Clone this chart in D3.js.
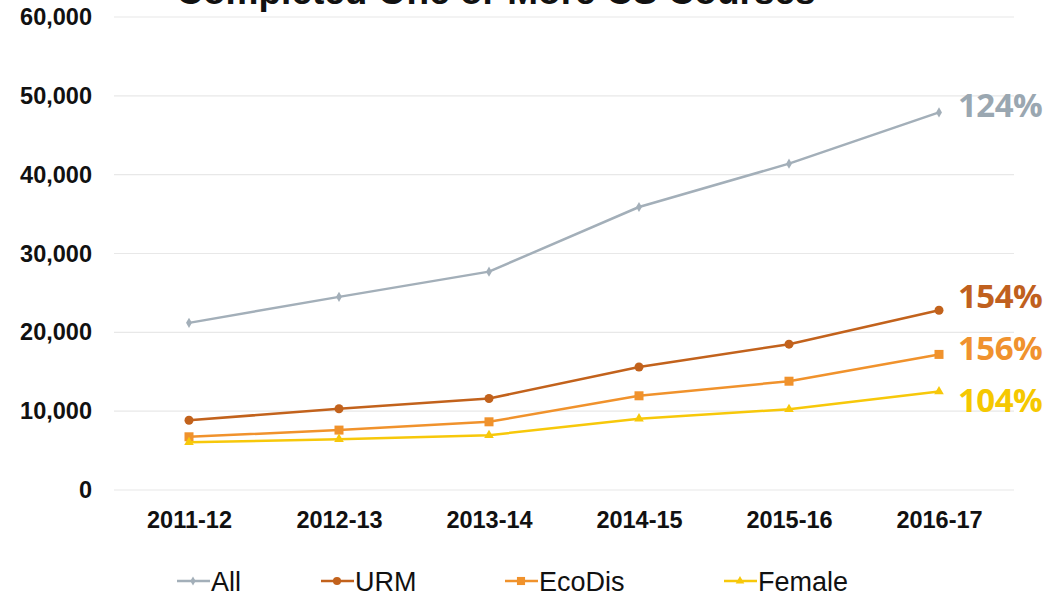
<!DOCTYPE html>
<html>
<head>
<meta charset="utf-8">
<script src="https://cdn.jsdelivr.net/npm/d3@7"></script>
<style>
  body { margin: 0; background: #fff; }
  svg { display: block; }
</style>
</head>
<body>
<div id="chart"></div>
<script>
// Data
const years = ['2011-12', '2012-13', '2013-14', '2014-15', '2015-16', '2016-17'];
const allValues    = [21200, 24500, 27700, 35900, 41400, 47900];
const urmValues    = [8850, 10300, 11600, 15600, 18500, 22800];
const ecoDisValues = [6750, 7600, 8650, 11950, 13800, 17200];
const femaleValues = [6050, 6450, 6950, 9050, 10250, 12500];
const seriesNames  = ['All', 'URM', 'EcoDis', 'Female'];
const growthLabels = ['124%', '154%', '156%', '104%'];
const yTicks = [0, 10000, 20000, 30000, 40000, 50000, 60000];
const title = 'Completed One or More CS Courses';

const W = 1063, H = 597;
const margin = {top: 17, right: 49, bottom: 107, left: 114};
const width = W - margin.left - margin.right;
const height = H - margin.top - margin.bottom;

const colors = {
    All: '#a3afb9',
    URM: '#c2621c',
    EcoDis: '#f0922c',
    Female: '#f7c80a'
};
const labelColors = {
    All: '#9aa7b1',
    URM: '#c0601e',
    EcoDis: '#f0922e',
    Female: '#f5c800'
};

const series = [
    {name: 'All', values: allValues, marker: 'diamond'},
    {name: 'URM', values: urmValues, marker: 'circle'},
    {name: 'EcoDis', values: ecoDisValues, marker: 'square'},
    {name: 'Female', values: femaleValues, marker: 'triangle'}
];

const svg = d3.select('#chart')
    .append('svg')
    .attr('width', W)
    .attr('height', H);

// Title (cut off at the top in the original)
svg.append('text')
    .attr('x', 496)
    .attr('y', 4)
    .attr('text-anchor', 'middle')
    .style('font-family', 'Liberation Sans, Arial, sans-serif')
    .style('font-weight', 'bold')
    .style('font-size', '37px')
    .style('fill', '#111')
    .text(title);

const g = svg.append('g')
    .attr('transform', `translate(${margin.left},${margin.top})`);

const xScale = d3.scalePoint()
    .domain(years)
    .range([0, width])
    .padding(0.5);

const yScale = d3.scaleLinear()
    .domain([0, 60000])
    .range([height, 0]);

// Gridlines
g.append('g')
    .selectAll('line')
    .data(yTicks)
    .enter().append('line')
    .attr('x1', 0)
    .attr('x2', width)
    .attr('y1', d => yScale(d))
    .attr('y2', d => yScale(d))
    .style('stroke', '#e8e8e8')
    .style('stroke-width', 1.2);

// Y axis
const yAxis = g.append('g')
    .call(d3.axisLeft(yScale)
        .tickValues(yTicks)
        .tickSize(0)
        .tickPadding(22)
        .tickFormat(d3.format(',')));
yAxis.select('.domain').remove();
yAxis.selectAll('text')
    .style('font-family', 'Liberation Sans, Arial, sans-serif')
    .style('font-weight', 'bold')
    .style('font-size', '23.5px')
    .style('fill', '#111');

// X axis
const xAxis = g.append('g')
    .attr('transform', `translate(0,${height})`)
    .call(d3.axisBottom(xScale).tickSize(0).tickPadding(21));
xAxis.select('.domain').remove();
xAxis.selectAll('text')
    .style('font-family', 'Liberation Sans, Arial, sans-serif')
    .style('font-weight', 'bold')
    .style('font-size', '23.5px')
    .style('fill', '#111');

const line = d3.line()
    .x((d, i) => xScale(years[i]))
    .y(d => yScale(d));

function drawMarker(sel, type, x, y, color, scale) {
    const s = scale || 1;
    if (type === 'circle') {
        sel.append('circle')
            .attr('cx', x).attr('cy', y).attr('r', 4.5 * s)
            .style('fill', color);
    } else if (type === 'square') {
        sel.append('rect')
            .attr('x', x - 4.5 * s).attr('y', y - 4.5 * s)
            .attr('width', 9 * s).attr('height', 9 * s)
            .style('fill', color);
    } else if (type === 'diamond') {
        sel.append('path')
            .attr('d', d3.symbol(d3.symbolDiamond, 30 * s * s)())
            .attr('transform', `translate(${x},${y})`)
            .style('fill', color);
    } else if (type === 'triangle') {
        sel.append('path')
            .attr('d', d3.symbol(d3.symbolTriangle, 40 * s * s)())
            .attr('transform', `translate(${x},${y})`)
            .style('fill', color);
    }
}

// Draw lines and markers
const labelShift = {All: -7, URM: -14, EcoDis: -6, Female: 9};
series.forEach((s, si) => {
    const color = colors[s.name];
    g.append('path')
        .datum(s.values)
        .attr('d', line)
        .style('fill', 'none')
        .style('stroke', color)
        .style('stroke-width', 2.5)
        .style('stroke-linejoin', 'round');

    const mg = g.append('g');
    s.values.forEach((v, i) => {
        drawMarker(mg, s.marker, xScale(years[i]), yScale(v), color);
    });

    // Growth label at the end
    const last = s.values[s.values.length - 1];
    g.append('text')
        .attr('x', xScale(years[years.length - 1]) + 19)
        .attr('y', yScale(last) + labelShift[s.name])
        .attr('dy', '0.36em')
        .style('font-family', 'Open Sans, Noto Sans, sans-serif')
        .style('font-weight', 'bold')
        .style('font-size', '33px')
        .style('letter-spacing', '-0.5px')
        .style('fill', labelColors[s.name])
        .text(growthLabels[si]);
});

// Legend
const legendX = [177, 321, 505, 724];
const legend = svg.append('g')
    .attr('transform', `translate(0, 581)`);
series.forEach((s, i) => {
    const x0 = legendX[i];
    const color = colors[s.name];
    legend.append('line')
        .attr('x1', x0).attr('x2', x0 + 33)
        .attr('y1', 0).attr('y2', 0)
        .style('stroke', color)
        .style('stroke-width', 2.5);
    drawMarker(legend, s.marker, x0 + 16, 0, color, 0.9);
    legend.append('text')
        .attr('x', x0 + 34)
        .attr('y', 0)
        .attr('dy', '0.36em')
        .style('font-family', 'Liberation Sans, Arial, sans-serif')
        .style('font-size', '27px')
        .style('fill', '#111')
        .text(s.name);
});
</script>
</body>
</html>
